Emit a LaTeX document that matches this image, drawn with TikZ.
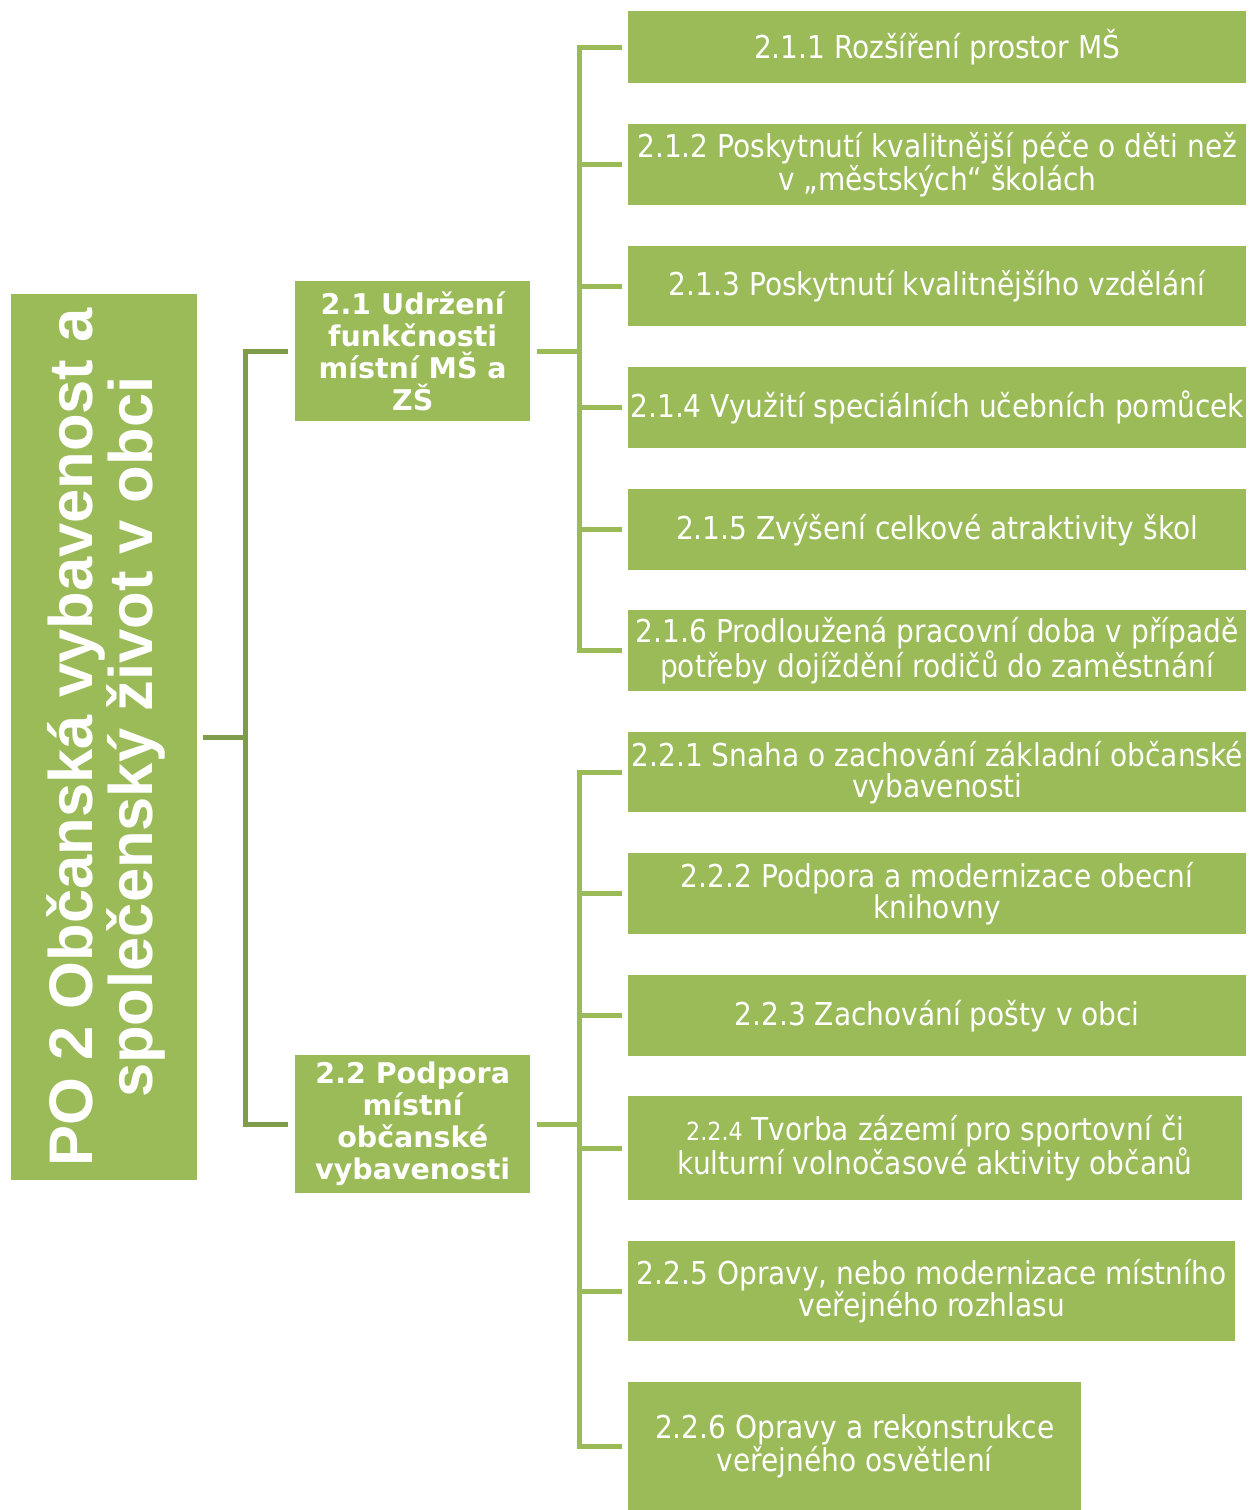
\documentclass[tikz,border=0pt]{standalone}
\usepackage{fontspec}
\setmainfont{DejaVu Sans}
\newfontfamily\rootfont{Liberation Sans}
\newfontfamily\leaffont[FakeStretch=0.89]{DejaVu Sans}
\definecolor{boxgreen}{HTML}{9BBB59}
\definecolor{linegreen}{HTML}{7F9C4A}
\begin{document}
\begin{tikzpicture}[x=1pt,y=-1pt,
  box/.style={fill=boxgreen, text=white, inner sep=0pt, align=center, anchor=north west},
  leaf/.style={box, minimum width=618pt, font=\leaffont\fontsize{31.5}{31}\selectfont},
  lvl/.style={box, minimum width=235pt, font=\bfseries\fontsize{28.5}{32}\selectfont},
  conn/.style={line width=5pt, boxgreen},
  rconn/.style={line width=5pt, linegreen}]
\useasboundingbox (0,0) rectangle (1248,1510);
% root
\node[box, minimum width=186pt, minimum height=886pt] (root) at (11,294) {};
\node[rotate=90, text=white, inner sep=0pt, align=center,
      font=\rootfont\bfseries\fontsize{61.5}{60}\selectfont] (rootlabel) at ([xshift=2pt]root.center)
      {PO 2 Občanská vybavenost a\\společenský život v obci};
% level 1
\node[lvl, minimum height=140pt] (n21) at (295,281) {2.1 Udržení\\funkčnosti\\místní MŠ a\\ZŠ};
\node[lvl, minimum height=138pt] (n22) at (295,1055) {2.2 Podpora\\místní\\občanské\\vybavenosti};
% leaves
\node[leaf, minimum height=72pt] (l211) at (628,11) {2.1.1 Rozšíření prostor MŠ};
\node[leaf, minimum height=81pt] (l212) at (628,124) {2.1.2 Poskytnutí kvalitnější péče o děti než\\v „městských“ školách};
\node[leaf, minimum height=80pt] (l213) at (628,246) {2.1.3 Poskytnutí kvalitnějšího vzdělání};
\node[leaf, minimum height=81pt] (l214) at (628,367) {2.1.4 Využití speciálních učebních pomůcek};
\node[leaf, minimum height=81pt] (l215) at (628,489) {2.1.5 Zvýšení celkové atraktivity škol};
\node[leaf, minimum height=81pt] (l216) at (628,610) {2.1.6 Prodloužená pracovní doba v případě\\potřeby dojíždění rodičů do zaměstnání};
\node[leaf, minimum height=80pt] (l221) at (628,732) {2.2.1 Snaha o zachování základní občanské\\vybavenosti};
\node[leaf, minimum height=81pt] (l222) at (628,853) {2.2.2 Podpora a modernizace obecní\\knihovny};
\node[leaf, minimum height=81pt] (l223) at (628,975) {2.2.3 Zachování pošty v obci};
\node[leaf, minimum width=614pt, minimum height=104pt] (l224) at (628,1096) {{\fontsize{25}{31}\selectfont 2.2.4} Tvorba zázemí pro sportovní či\\kulturní volnočasové aktivity občanů};
\node[leaf, minimum width=607pt, minimum height=100pt] (l225) at (628,1241) {2.2.5 Opravy, nebo modernizace místního\\veřejného rozhlasu};
\node[leaf, minimum width=453pt, minimum height=128pt] (l226) at (628,1382) {2.2.6 Opravy a rekonstrukce\\veřejného osvětlení};
% connectors root
\coordinate (j0) at (245,737);
\draw[rconn] ([xshift=6pt]root.east) -- (j0 |- root.east);
\draw[rconn] ([xshift=-7pt]n21.west) -- (j0 |- n21.west) -- (j0 |- n22.west) -- ([xshift=-7pt]n22.west);
% connectors 2.1
\coordinate (j1) at (579,350);
\draw[conn] ([xshift=7pt]n21.east) -- (j1 |- n21.east);
\draw[conn] ([xshift=-6pt]l211.west) -- (j1 |- l211.west) -- (j1 |- l216.west) -- ([xshift=-6pt]l216.west);
\foreach \n in {l212,l213,l214,l215}
  \draw[conn] (j1 |- \n.west) -- ([xshift=-6pt]\n.west);
% connectors 2.2
\coordinate (j2) at (579,1123);
\draw[conn] ([xshift=7pt]n22.east) -- (j2 |- n22.east);
\draw[conn] ([xshift=-6pt]l221.west) -- (j2 |- l221.west) -- (j2 |- l226.west) -- ([xshift=-6pt]l226.west);
\foreach \n in {l222,l223,l224,l225}
  \draw[conn] (j2 |- \n.west) -- ([xshift=-6pt]\n.west);
\end{tikzpicture}
\end{document}
